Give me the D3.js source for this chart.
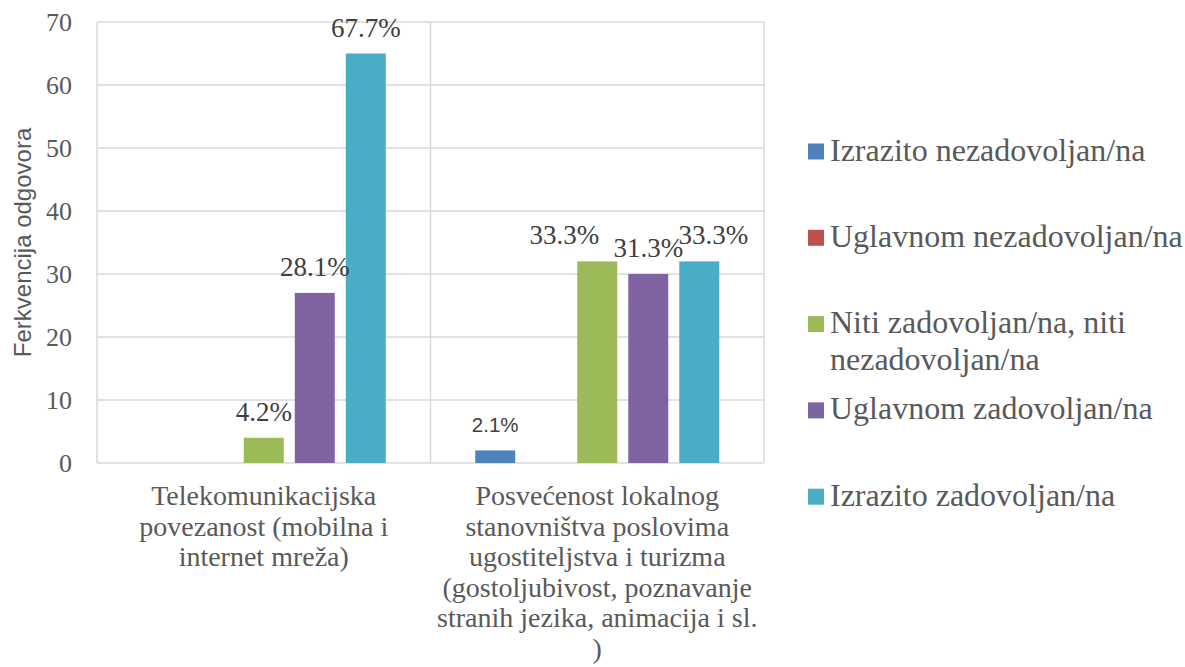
<!DOCTYPE html>
<html><head><meta charset="utf-8">
<script src="https://cdn.jsdelivr.net/npm/d3@7"></script>
<style>body{margin:0;background:#fff}svg{display:block}</style>
</head><body>
<svg id="c" width="1185" height="667"></svg>
<script>
const categories = [
  ["Telekomunikacijska", "povezanost (mobilna i", "internet mreža)"],
  ["Posvećenost lokalnog", "stanovništva poslovima", "ugostiteljstva i turizma", "(gostoljubivost, poznavanje", "stranih jezika, animacija i sl.", ")"]
];
const seriesNames = ["Izrazito nezadovoljan/na", "Uglavnom nezadovoljan/na", "Niti zadovoljan/na, niti nezadovoljan/na", "Uglavnom zadovoljan/na", "Izrazito zadovoljan/na"];
const legendLines = [["Izrazito nezadovoljan/na"], ["Uglavnom nezadovoljan/na"], ["Niti zadovoljan/na, niti", "nezadovoljan/na"], ["Uglavnom zadovoljan/na"], ["Izrazito zadovoljan/na"]];
const seriesColors = ["#4f81bd", "#c0504d", "#9bbb59", "#8064a2", "#4bacc6"];
// values per category, per series
const cat1Values = [0, 0, 4, 27, 65];
const cat2Values = [2, 0, 32, 30, 32];
const cat1Labels = ["", "", "4.2%", "28.1%", "67.7%"];
const cat2Labels = ["2.1%", "", "33.3%", "31.3%", "33.3%"];
const yTicks = [0, 10, 20, 30, 40, 50, 60, 70];
const yTitle = "Ferkvencija odgovora";

const values = [cat1Values, cat2Values];
const labels = [cat1Labels, cat2Labels];
// label horizontal nudges (layout, avoids overlap like the original)
const labelShift = [[0,0,0,0,0],[0,0,-33,0,14]];

const svg = d3.select("#c");
const L = 97, R = 764, T = 22, B = 463;
const serif = "'Liberation Serif'";
const sans = "'Liberation Sans'";

const x0 = d3.scaleBand().domain([0,1]).range([L, R]).padding(0);
const x1 = d3.scaleBand().domain(d3.range(5)).range([0, x0.bandwidth()]).paddingInner(0.216).paddingOuter(0.877);
const y = d3.scaleLinear().domain([0, 70]).range([B, T]);

svg.append("g").selectAll("line").data(yTicks).join("line")
  .attr("x1", L).attr("x2", R).attr("y1", d => y(d)).attr("y2", d => y(d))
  .attr("stroke", "#d9d9d9").attr("stroke-width", 1.5);
svg.append("g").selectAll("line").data([L, x0(1), R]).join("line")
  .attr("x1", d => d).attr("x2", d => d).attr("y1", T).attr("y2", B)
  .attr("stroke", "#d9d9d9").attr("stroke-width", 1.5);

const yAxis = d3.axisLeft(y).tickValues(yTicks).tickSize(0).tickPadding(25);
const ga = svg.append("g").attr("transform", `translate(${L},0)`).call(yAxis);
ga.select(".domain").remove();
ga.attr("font-family", null).attr("font-size", null);
ga.selectAll("text").attr("dy", "0.34em").style("font-family", serif).style("font-size", "26px").attr("fill", "#595959");

svg.append("text").attr("transform", `translate(31,${(T+B)/2}) rotate(-90)`)
  .attr("text-anchor", "middle").style("font-family", sans).style("font-size", "24px")
  .attr("fill", "#595959").text(yTitle);

values.forEach((vals, ci) => {
  const g = svg.append("g").attr("transform", `translate(${x0(ci)},0)`);
  g.selectAll("rect").data(vals).join("rect")
    .attr("x", (d, i) => x1(i)).attr("width", x1.bandwidth())
    .attr("y", d => y(d)).attr("height", d => y(0) - y(d))
    .attr("fill", (d, i) => seriesColors[i]);
  g.selectAll("text").data(vals).join("text")
    .attr("x", (d, i) => x1(i) + x1.bandwidth()/2 + labelShift[ci][i])
    .attr("y", (d, i) => y(d) - ((ci === 1 && i === 0) ? 18 : 17))
    .attr("text-anchor", "middle")
    .style("font-family", (d, i) => (ci === 1 && i === 0) ? sans : serif)
    .style("font-size", (d, i) => (ci === 1 && i === 0) ? "20.5px" : "27px")
    .attr("fill", "#404040")
    .text((d, i) => labels[ci][i]);
});

categories.forEach((lines, ci) => {
  const t = svg.append("text").attr("text-anchor", "middle")
    .style("font-family", serif).style("font-size", "28px").attr("fill", "#595959");
  lines.forEach((ln, k) => {
    t.append("tspan").attr("x", x0(ci) + x0.bandwidth()/2).attr("y", 505 + k*30.6).text(ln);
  });
});

const lg = svg.append("g");
legendLines.forEach((lines, i) => {
  const cy = 151.5 + i*86.3;
  lg.append("rect").attr("x", 808).attr("y", cy - 8).attr("width", 16).attr("height", 16).attr("fill", seriesColors[i]);
  const t = lg.append("text").style("font-family", serif).style("font-size", "32px").attr("fill", "#595959");
  lines.forEach((ln, k) => t.append("tspan").attr("x", 830).attr("y", cy + 9 + k*37).text(ln));
});
</script>
</body></html>
